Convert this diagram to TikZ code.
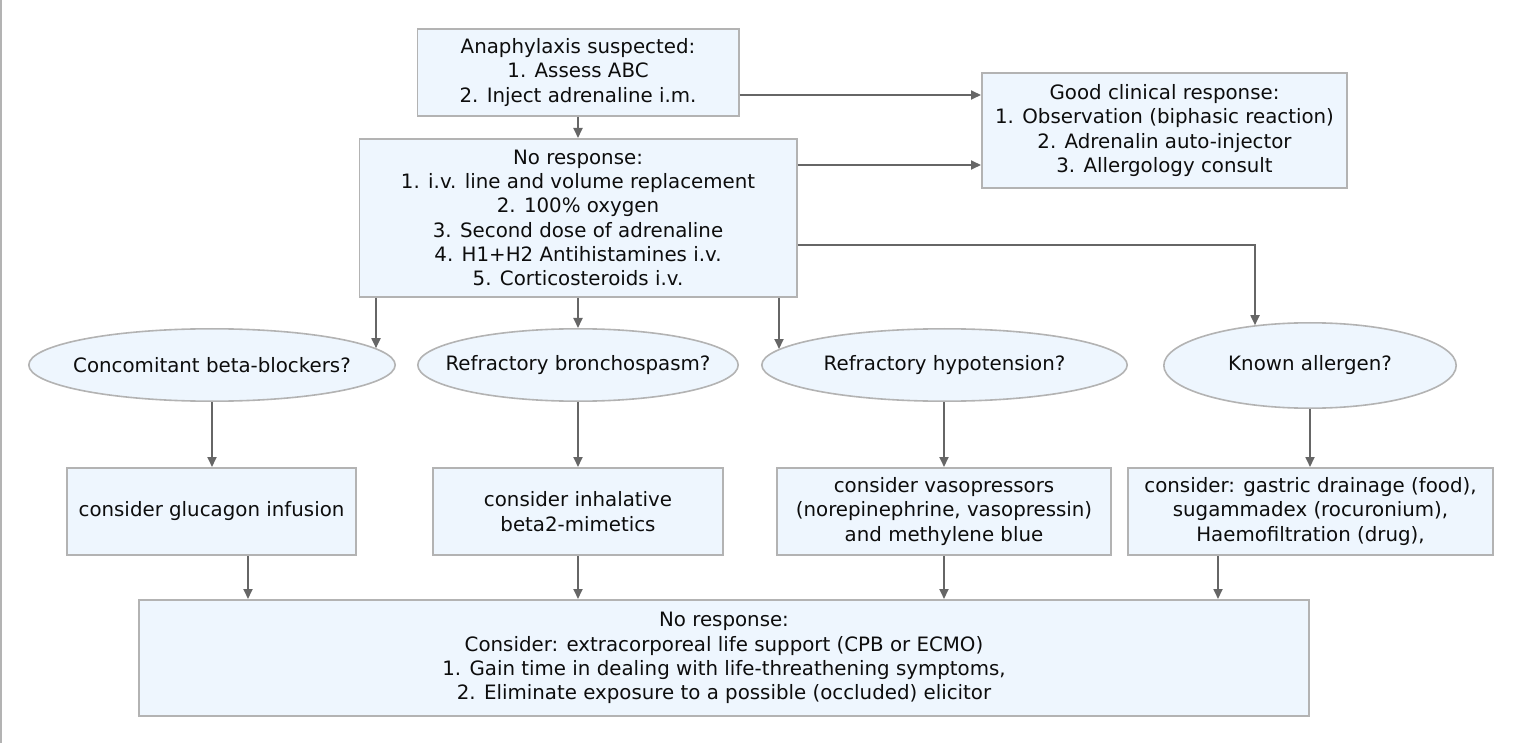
\documentclass[tikz,border=0pt]{standalone}
\usepackage{fontspec}
\setmainfont{DejaVu Sans}
\usetikzlibrary{arrows.meta,shapes.geometric}
\definecolor{boxfill}{HTML}{EEF6FE}
\definecolor{boxline}{HTML}{B3B3B3}
\definecolor{arrline}{HTML}{666666}
\begin{document}
\begin{tikzpicture}[x=1pt,y=-1pt,
  every node/.style={font=\fontsize{19.8}{24.3}\selectfont, text=black!95},
  rbox/.style={draw=boxline, fill=boxfill, line width=1.6pt, rectangle, inner sep=0pt, align=center},
  qell/.style={draw=boxline, fill=boxfill, line width=1.6pt, ellipse, inner sep=0pt},
  arr/.style={draw=arrline, line width=1.8pt, -{Triangle[length=10pt,width=9pt]}}]
\useasboundingbox (0,0) rectangle (1518,743);
\draw[boxline, line width=1.5pt] (0.75,0) -- (0.75,743);

\node[rbox, minimum width=321.4pt, minimum height=87.4pt] (A) at (578,72.5)
  {Anaphylaxis suspected:\\1. Assess ABC\\2. Inject adrenaline i.m.};
\node[rbox, minimum width=365.4pt, minimum height=115.4pt] (G) at (1164.5,130.5)
  {Good clinical response:\\1. Observation (biphasic reaction)\\2. Adrenalin auto-injector\\3. Allergology consult};
\node[rbox, minimum width=437.4pt, minimum height=158.4pt] (N) at (578,218)
  {No response:\\1. i.v. line and volume replacement\\2. 100\% oxygen\\3. Second dose of adrenaline\\4. H1+H2 Antihistamines i.v.\\5. Corticosteroids i.v.};

\node[qell, minimum width=366.4pt, minimum height=72.4pt] (E1) at (212,365) {\makebox[0pt]{Concomitant beta-blockers?}};
\node[qell, minimum width=320.4pt, minimum height=72.4pt] (E2) at (578,365) {\makebox[0pt]{Refractory bronchospasm?}};
\node[qell, minimum width=365.4pt, minimum height=72.4pt] (E3) at (944.5,365) {\makebox[0pt]{Refractory hypotension?}};
\node[qell, minimum width=292.4pt, minimum height=85.4pt] (E4) at (1310,365.5) {\makebox[0pt]{Known allergen?}};

\coordinate (e1in) at ([xshift=164pt,yshift=16.8pt]E1.center);
\coordinate (e3in) at ([xshift=-165.5pt,yshift=16pt]E3.center);
\coordinate (e4in) at ([xshift=-55pt,yshift=40.3pt]E4.center);

\node[rbox, minimum width=289.4pt, minimum height=87.4pt] (C1) at (211.5,511.5) {consider glucagon infusion};
\node[rbox, minimum width=290.4pt, minimum height=87.4pt] (C2) at (578,511.5) {consider inhalative\\beta2-mimetics};
\node[rbox, minimum width=334.4pt, minimum height=87.4pt] (C3) at (944,511.5)
  {consider vasopressors\\(norepinephrine, vasopressin)\\and methylene blue};
\node[rbox, minimum width=365.4pt, minimum height=87.4pt] (C4) at (1310.5,511.5)
  {consider: gastric drainage (food),\\sugammadex (rocuronium),\\Haemofiltration (drug),};

\node[rbox, minimum width=1170.4pt, minimum height=116.4pt] (F) at (724,658)
  {No response:\\Consider: extracorporeal life support (CPB or ECMO)\\1. Gain time in dealing with life-threathening symptoms,\\2. Eliminate exposure to a possible (occluded) elicitor};

\draw[arr] ([yshift=-22.5pt]A.east) -- ([yshift=35.5pt]G.west);
\draw[arr] ([yshift=53pt]N.east) -- ([yshift=-34.5pt]G.west);
\draw[arr] (A.south) -- (N.north);
\draw[arr] (N.south -| e1in) -- (e1in);
\draw[arr] (N.south) -- (E2.north);
\draw[arr] (N.south -| e3in) -- (e3in);
\draw[arr] ([yshift=-27pt]N.east) -| (e4in);

\draw[arr] (E1.south) -- (E1.south |- C1.north);
\draw[arr] (E2.south) -- (C2.north);
\draw[arr] (C3.north |- E3.south) -- (C3.north);
\draw[arr] (E4.south) -- (E4.south |- C4.north);

\draw[arr] ([xshift=36.5pt]C1.south) -- ([xshift=36.5pt]C1.south |- F.north);
\draw[arr] (C2.south) -- (C2.south |- F.north);
\draw[arr] (C3.south) -- (C3.south |- F.north);
\draw[arr] ([xshift=-92.5pt]C4.south) -- ([xshift=-92.5pt]C4.south |- F.north);
\end{tikzpicture}
\end{document}
